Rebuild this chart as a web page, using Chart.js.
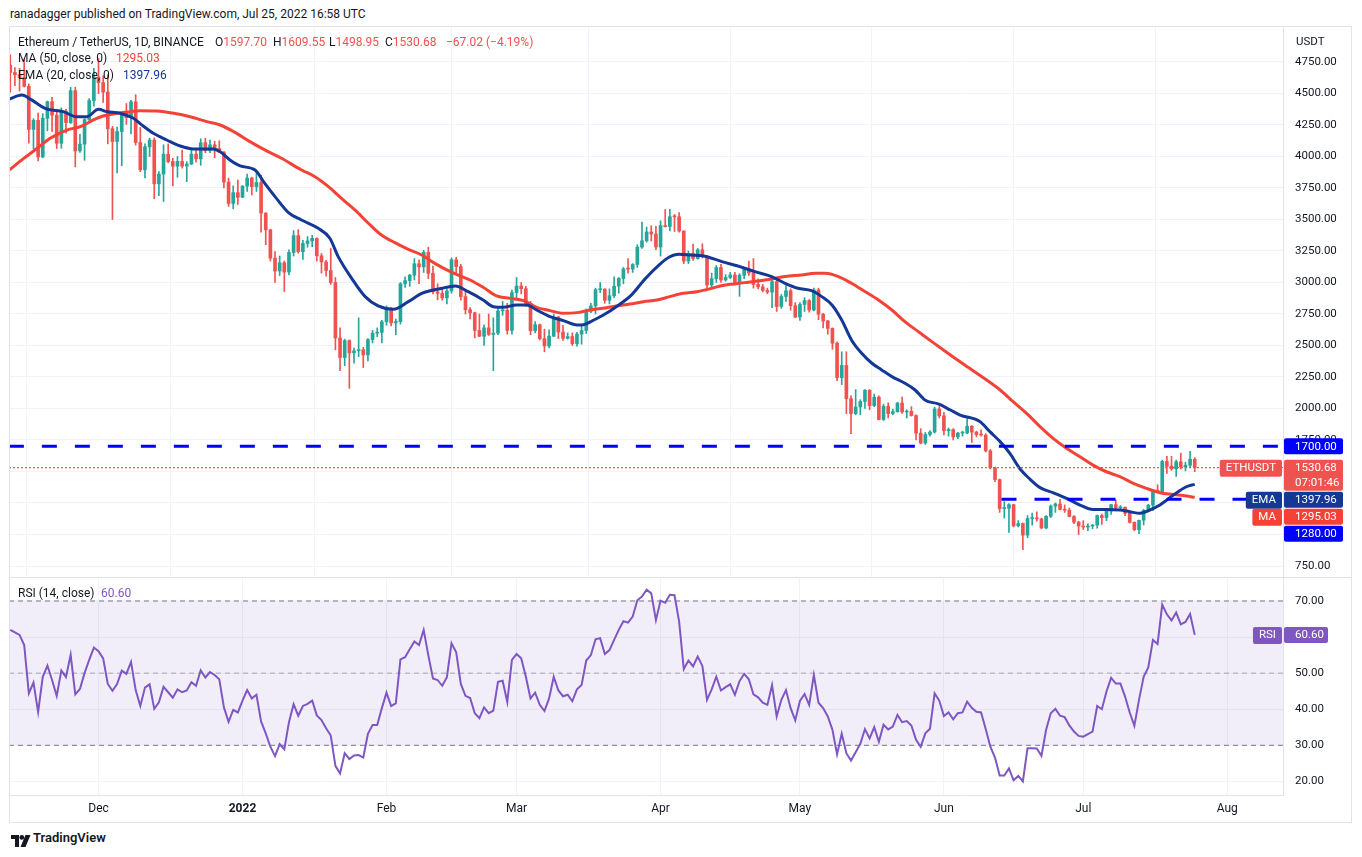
<!DOCTYPE html>
<html><head><meta charset="utf-8">
<script src="https://cdn.jsdelivr.net/npm/chart.js@4.4.1/dist/chart.umd.min.js"></script>
<style>
html,body{margin:0;padding:0;background:#fff;width:1362px;height:857px;overflow:hidden;font-family:Roboto,"Open Sans",sans-serif;color:#131722;}
#wrap{position:relative;width:1362px;height:857px;}
canvas{position:absolute;}
.t{position:absolute;white-space:nowrap;font-size:12px;line-height:16px;color:#131722;}
.r{color:#ef5350;}
.ln{position:absolute;background:#e0e3eb;pointer-events:none;}
</style></head><body>
<div id="wrap">
<canvas id="price" width="1342" height="551" style="left:9px;top:26px;"></canvas>
<canvas id="rsi" width="1342" height="245" style="left:9px;top:577px;"></canvas>
<div class="ln" style="left:9px;top:26px;width:1342px;height:1px;"></div>
<div class="ln" style="left:9px;top:822px;width:1342px;height:1px;"></div>
<div class="ln" style="left:9px;top:26px;width:1px;height:797px;"></div>
<div class="ln" style="left:1351px;top:26px;width:1px;height:797px;"></div>
<div class="ln" style="left:9px;top:577px;width:1342px;height:1px;"></div>

<div class="t" style="left:10px;top:6px;">ranadagger published on TradingView.com, Jul 25, 2022 16:58 UTC</div>
<div class="t" style="left:18px;top:34px;">Ethereum / TetherUS, 1D, BINANCE</div>
<div class="t" style="left:215px;top:34px;">O<span class="r" id="lgO"></span></div>
<div class="t" style="left:273px;top:34px;">H<span class="r" id="lgH"></span></div>
<div class="t" style="left:329px;top:34px;">L<span class="r" id="lgL"></span></div>
<div class="t" style="left:385px;top:34px;">C<span class="r" id="lgC"></span></div>
<div class="t r" style="left:446px;top:34px;" id="lgChg"></div>
<div class="t" style="left:18px;top:50px;">MA (50, close, 0)</div>
<div class="t" style="left:116px;top:50px;color:#f44336;" id="lgMA"></div>
<div class="t" style="left:18px;top:67px;">EMA (20, close, 0)</div>
<div class="t" style="left:123px;top:67px;color:#143896;" id="lgEMA"></div>
<div class="t" style="left:1296px;top:33px;font-size:11.5px;">USDT</div>
<div class="t" style="left:18px;top:585px;">RSI (14, close)</div>
<div class="t" style="left:101px;top:585px;color:#7e57c2;" id="lgRSI"></div>
<div style="position:absolute;left:11px;top:832px;">
<svg width="20" height="12" viewBox="0 0 20 12"><path d="M0 0h8v12H4V4H0z" fill="#131722"/><circle cx="10.8" cy="2.4" r="2.4" fill="#131722"/><path d="M14.5 0h5l-5 12h-5z" fill="#131722"/></svg>
</div>
<div class="t" style="left:33px;top:830px;font-size:13px;font-weight:600;">TradingView</div>
</div>
<script>
// ---- DATA (daily candles, Nov 12 2021 .. Jul 25 2022) ----
const firstDay = -19; // days relative to Dec 1, 2021
const opens = [
4725,4667,4649,4626,4557,4215,4287,3996,4303,4435,4328,4105,4361,4269,4523,4044,4098,4293,4444,
4631,4586,4511,4220,4119,4198,4346,4308,4434,4111,3894,4077,4131,3783,3861,4018,3960,3923,3961,3924,3940,4019,3981,4109,4046,4093,4063,4036,3797,3628,3713,
3676,3765,3829,3761,3794,3550,3418,3193,3091,3157,3083,3238,3372,3245,3310,3330,3350,3212,3163,3095,3000,2560,2405,2539,2441,2458,2467,2425,2547,2598,2604,
2688,2792,2680,2690,2990,3015,3058,3149,3124,3240,3073,2926,2914,2878,2933,3180,3126,2888,2784,2760,2620,2573,2640,2588,2598,2775,2780,2620,
2920,2972,2951,2835,2617,2665,2555,2496,2574,2727,2607,2557,2571,2515,2590,2619,2772,2814,2943,2948,2859,2895,2971,3032,3108,3106,3143,3281,3331,3401,3385,
3282,3452,3444,3522,3521,3409,3170,3232,3190,3260,3210,2980,3030,3119,3020,3040,3060,2990,3058,3103,3076,2985,2965,2937,2924,3007,2810,2889,2935,2816,
2726,2826,2857,2782,2941,2748,2695,2636,2518,2245,2342,2078,1960,2012,2056,2145,2023,2090,1913,2017,1960,1975,2043,1972,1978,1944,1804,1725,1794,1813,1996,
1942,1823,1833,1775,1805,1806,1859,1813,1793,1789,1664,1529,1436,1206,1209,1237,1069,1087,995,1127,1127,1124,1052,1144,1225,1242,1199,1193,1143,1098,
1067,1059,1067,1074,1150,1134,1186,1237,1212,1216,1168,1097,1038,1113,1192,1233,1352,1339,1580,1542,1521,1577,1536,1550,1597.70
];
const highs = [
4808,4705,4700,4772,4577,4300,4345,4340,4440,4469,4375,4386,4375,4550,4550,4176,4300,4460,4700,
4778,4640,4650,4240,4233,4350,4420,4445,4490,4230,4100,4145,4148,3880,4093,4100,3985,4000,4050,3960,4050,4060,4140,4145,4130,4120,4125,4040,3828,3767,3812,
3769,3860,3836,3877,3850,3555,3423,3245,3210,3170,3260,3412,3420,3335,3365,3375,3355,3230,3175,3270,3040,2640,2550,2545,2480,2720,2485,2555,2620,2640,2700,
2815,2800,2710,3000,3045,3065,3190,3180,3255,3280,3130,2990,2962,2950,3195,3200,3145,2945,2800,2765,2750,2665,2750,2720,2810,2850,2835,2940,
3040,3000,2970,2850,2690,2670,2630,2625,2750,2730,2660,2600,2600,2605,2655,2790,2835,2955,3000,2950,2950,3045,3040,3120,3190,3150,3300,3480,3440,3450,3445,
3490,3580,3580,3540,3555,3410,3250,3305,3270,3308,3215,3075,3135,3145,3062,3080,3080,3070,3120,3170,3190,3030,2985,2955,3025,3035,2905,2975,2950,2840,
2840,2880,2865,2955,2955,2755,2700,2640,2530,2450,2450,2100,2150,2070,2150,2150,2115,2100,2035,2045,1995,2050,2090,1990,2015,1950,1840,1810,1825,2010,2015,
1970,1845,1840,1810,1820,1920,1865,1820,1830,1800,1675,1535,1440,1260,1245,1240,1110,1090,1150,1170,1180,1130,1150,1235,1250,1280,1235,1210,1150,1105,
1110,1085,1080,1155,1163,1192,1240,1275,1230,1220,1170,1100,1115,1200,1240,1355,1395,1590,1620,1620,1590,1645,1575,1660,1609.55
];
const lows = [
4510,4563,4520,4551,4106,4060,3964,3990,4204,4200,4063,4065,4185,4262,3918,4033,3970,4285,4400,
4500,4430,4100,3500,3870,3927,4255,4180,4090,3880,3830,4000,3665,3690,3643,3950,3766,3835,3907,3800,3935,3955,3930,4030,4030,3990,4030,3750,3604,3585,3620,
3675,3722,3695,3723,3400,3300,3170,3000,3055,2928,3060,3210,3232,3183,3280,3283,3170,3075,3050,2985,2465,2300,2340,2160,2360,2412,2325,2378,2520,2570,2520,
2660,2655,2585,2670,2960,2970,3020,2990,3080,3030,2910,2862,2860,2830,2915,3072,2860,2750,2710,2560,2570,2500,2580,2300,2585,2740,2590,2590,
2860,2910,2810,2585,2600,2545,2450,2480,2570,2555,2540,2550,2500,2495,2510,2595,2760,2750,2920,2835,2830,2880,2915,2990,3075,3080,3120,3270,3320,3330,3260,
3210,3440,3410,3405,3400,3150,3150,3175,3185,3195,2950,2950,3000,3000,3010,3030,2980,2890,3030,3055,2955,2950,2925,2910,2800,2770,2795,2850,2780,2720,
2700,2770,2765,2775,2705,2640,2590,2470,2220,2190,1960,1800,1950,1950,2000,1990,2015,1910,1905,1925,1950,1970,1960,1925,1940,1750,1720,1715,1780,1805,1925,
1790,1780,1750,1760,1780,1800,1730,1775,1780,1655,1520,1420,1175,1130,1016,1060,1060,880,975,1075,1105,1045,1045,1135,1175,1195,1175,1140,1085,1000,
1040,1030,1045,1050,1080,1110,1160,1195,1200,1150,1090,1030,1006,1075,1185,1190,1335,1335,1485,1510,1460,1520,1505,1535,1498.95
];
const closes = [
4667,4649,4626,4557,4215,4287,3996,4303,4435,4328,4105,4361,4269,4523,4044,4098,4293,4444,4631,
4586,4511,4220,4119,4198,4346,4308,4434,4111,3894,4077,4131,3783,3861,4018,3960,3923,3961,3924,3940,4019,3981,4109,4046,4093,4063,4036,3797,3628,3713,3676,
3765,3829,3761,3794,3550,3418,3193,3091,3157,3083,3238,3372,3245,3310,3330,3350,3212,3163,3095,3000,2560,2405,2539,2441,2458,2467,2425,2547,2598,2604,2688,
2792,2680,2690,2990,3015,3058,3149,3124,3240,3073,2926,2914,2878,2933,3180,3126,2888,2784,2760,2620,2573,2640,2588,2598,2775,2780,2620,2920,
2972,2951,2835,2617,2665,2555,2496,2574,2727,2607,2557,2571,2515,2590,2619,2772,2814,2943,2948,2859,2895,2971,3032,3108,3106,3143,3281,3331,3401,3385,3282,
3452,3444,3522,3521,3409,3170,3232,3190,3260,3210,2980,3030,3119,3020,3040,3060,2990,3058,3103,3076,2985,2965,2937,2924,3007,2810,2889,2935,2816,2726,
2826,2857,2782,2941,2748,2695,2636,2518,2245,2342,2078,1960,2012,2056,2145,2023,2090,1913,2017,1960,1975,2043,1972,1978,1944,1804,1725,1794,1813,1996,1942,
1823,1833,1775,1805,1806,1859,1813,1793,1789,1664,1529,1436,1206,1209,1237,1069,1087,995,1127,1127,1124,1052,1144,1225,1242,1199,1193,1143,1098,1067,
1059,1067,1074,1150,1134,1186,1237,1212,1216,1168,1097,1038,1113,1192,1233,1352,1339,1580,1542,1521,1577,1536,1550,1597.70,1530.68
];
// MA(50): day (rel. Dec 1) and value
const maDays = [-19.3,-16.1,-13.2,-10.4,-6.8,-3.9,-1.1,1,3.9,6.8,8.9,12.5,16.2,19.7,23.3,26.2,29.1,32.6,35.8,39.4,43.7,46.6,49.5,52.3,55.2,58.1,60.9,63.8,66.7,69.6,72.4,75.3,78.2,80,82.8,85.7,88.6,91.5,94.3,97.2,100.1,103,105.8,108.7,111.5,114.4,117.3,120.2,123,125.9,128.8,130.6,134.9,139.2,143.5,147.8,151.4,154.3,156.4,159.3,162.1,165,167.9,170.8,173.6,176.5,179.4,183.4,187.3,191.2,194.1,196.9,199.8,202.7,205.5,208.4,211.3,214.1,217,219.9,222.8,225.6,228.5,231.4,234.2,236];
const maVals = [3890,3985,4065,4144,4210,4237,4290,4321,4343,4356,4364,4361,4343,4316,4277,4250,4197,4118,4052,3986,3893,3840,3761,3668,3576,3470,3377,3316,3263,3218,3152,3094,3047,3020,2962,2893,2874,2856,2803,2777,2755,2761,2782,2795,2814,2829,2848,2861,2888,2914,2927,2941,2980,2999,3020,3047,3060,3073,3073,3047,2994,2928,2861,2782,2689,2610,2531,2425,2325,2226,2147,2054,1961,1856,1763,1684,1617,1551,1498,1459,1406,1366,1332,1318,1305,1295.03];
// EMA(20)
const emaDays = [-19.3,-16.5,-14.4,-11.5,-7.6,-4.7,-2.5,0,1.8,4.6,7.5,8.9,11.8,14.7,17.6,20.4,24.7,26.2,28.3,30.5,33.7,35.8,38,40.9,43.7,47.3,49.8,51.6,54.5,57.4,60.2,63.5,66.7,69.6,73.9,76.8,79.6,82.8,85,87.1,90,92.2,94.3,97.2,100.1,103,104.4,106.5,108.7,111.7,114.7,117.7,120.7,122.8,124.9,127.4,130.3,134.2,138.5,141.3,144.9,147.8,150.6,153.5,155.7,157.9,160,162.1,164.3,166.5,168.6,170.8,173.6,175.8,177.9,180.8,183.4,185.5,189.8,191.9,194.1,196.2,198.4,200.5,202.7,205.5,208.4,211.3,214.1,217,219.9,222,224.2,226.3,228.5,231.4,234.2,236];
const emaVals = [4454,4488,4449,4382,4356,4316,4316,4374,4356,4343,4303,4263,4184,4131,4083,4060,4060,4038,3972,3925,3893,3787,3682,3555,3496,3430,3351,3205,3033,2888,2814,2787,2848,2914,2954,2972,2927,2861,2808,2803,2822,2822,2782,2729,2697,2663,2665,2700,2742,2814,2900,3030,3140,3200,3224,3218,3210,3166,3121,3086,3047,2994,2954,2935,2888,2822,2703,2544,2438,2359,2306,2253,2200,2147,2068,2036,1988,1948,1895,1816,1737,1644,1520,1440,1372,1332,1287,1234,1199,1199,1194,1181,1168,1194,1234,1313,1379,1397.96];
// RSI(14) daily values
const rsiVals = [
62.0,61.3,60.6,57.8,44.4,47.4,39.2,49.0,52.1,48.1,43.7,50.7,48.9,55.1,44.1,45.6,50.0,53.7,57.1,
56.1,54.1,47.0,45.1,47.0,50.7,49.8,53.1,45.3,40.9,46.0,46.9,40.1,41.9,46.2,44.7,43.2,45.5,44.7,45.2,47.5,46.5,50.8,48.8,50.3,49.5,48.3,40.5,36.5,39.8,39.1,
42.4,45.3,43.0,44.0,36.6,33.3,29.6,27.0,30.3,28.9,36.4,41.4,38.2,40.9,41.5,42.4,38.3,37.0,34.7,32.7,24.3,22.2,27.8,26.2,27.2,27.3,26.6,33.2,35.6,35.6,40.3,
44.6,40.9,41.6,53.8,54.4,56.6,58.8,57.8,62.0,55.0,48.5,48.1,46.5,48.9,58.3,55.8,47.0,43.7,43.1,38.9,37.5,40.5,38.9,39.6,47.6,47.9,42.0,53.7,
55.3,54.1,49.0,43.0,44.6,41.2,39.5,43.0,49.0,45.2,43.6,44.0,42.2,45.5,46.7,53.5,55.0,59.4,59.7,55.3,56.4,59.2,62.0,64.4,64.0,65.7,70.2,71.2,73.1,72.1,64.7,
70.1,69.5,71.7,71.6,64.3,51.1,53.5,51.9,54.6,52.0,42.6,45.5,49.0,45.2,46.1,46.9,44.0,47.8,49.8,48.3,44.1,43.3,41.8,41.2,46.7,38.0,42.6,45.3,40.3,36.9,
42.3,44.2,41.2,49.5,41.8,40.3,38.0,34.3,27.5,33.2,27.8,25.8,28.1,30.4,34.5,31.9,35.0,31.0,35.7,34.4,35.2,38.4,36.4,36.7,35.5,31.5,29.6,33.3,34.6,44.4,42.4,
38.1,39.1,37.2,38.9,39.1,42.1,40.4,39.3,39.1,34.5,29.6,26.6,21.6,21.6,23.6,20.3,21.5,20.0,29.2,29.2,29.1,27.1,34.3,38.9,40.1,38.2,37.8,35.5,33.8,32.6,
32.4,33.1,33.8,40.9,40.0,44.9,48.7,47.1,47.1,43.5,39.1,35.4,42.6,49.0,51.6,59.2,58.1,69.0,66.3,64.6,66.8,63.5,64.2,66.4,60.6
];
// horizontal levels drawn on the chart
const levelPrices = [1700, 1280];
const levelStartDays = [-19.3, 194.4];
// axis ticks
const priceTicks = [750,1000,1250,1500,1750,2000,2250,2500,2750,3000,3250,3500,3750,4000,4250,4500,4750];
const rsiTicks = [20,30,40,50,60,70];
const rsiBands = [70, 50, 30];
const monthDays = [0,31,62,90,121,151,182,212,243];
const monthLabels = ['Dec','2022','Feb','Mar','Apr','May','Jun','Jul','Aug'];
const countdown = '07:01:46';

// ---- CHART ----
const X_MIN = -19.27, X_MAX = 255.0;
const P_MIN = 662.7, P_MAX = 5035.7;
const R_MIN = 16.22, R_MAX = 76.65;
const GREEN = '#26a69a', RED = '#ef5350', EMA_C = '#143896', MA_C = '#f44336', LVL_C = '#0000ff', RSI_C = '#7e57c2';
Chart.defaults.font.family = 'Roboto, "Open Sans", sans-serif';
Chart.defaults.color = '#131722';

const N = closes.length;
const last = N - 1;
const days = closes.map((_, i) => firstDay + i);
const cColors = closes.map((c, i) => c >= opens[i] ? GREEN : RED);
const xy = (xs, ys) => xs.map((x, i) => ({x, y: ys[i]}));
const fmt = v => v.toFixed(2);

// legend texts
document.getElementById('lgO').textContent = fmt(opens[last]);
document.getElementById('lgH').textContent = fmt(highs[last]);
document.getElementById('lgL').textContent = fmt(lows[last]);
document.getElementById('lgC').textContent = fmt(closes[last]);
const chg = closes[last] - opens[last];
document.getElementById('lgChg').textContent = '\u2212' + fmt(Math.abs(chg)) + ' (\u2212' + fmt(Math.abs(chg / opens[last] * 100)) + '%)';
document.getElementById('lgMA').textContent = fmt(maVals[maVals.length - 1]);
document.getElementById('lgEMA').textContent = fmt(emaVals[emaVals.length - 1]);
document.getElementById('lgRSI').textContent = fmt(rsiVals[last]);

function tagDraw(ctx, items, xAxis) {
  ctx.save();
  ctx.font = '11.5px Roboto, "Open Sans", sans-serif';
  ctx.textBaseline = 'middle';
  let prevBottom = -1e9;
  items.sort((a, b) => a.y - b.y);
  for (const it of items) {
    const h = 16 + (it.lines.length - 1) * 15;
    let top = Math.max(it.y - 8, prevBottom + 1);
    prevBottom = top + h;
    ctx.fillStyle = it.bg;
    ctx.beginPath(); ctx.roundRect(xAxis + 1, top, it.w || 59, h, 2); ctx.fill();
    ctx.fillStyle = '#fff'; ctx.textAlign = 'left';
    it.lines.forEach((s, k) => ctx.fillText(s, xAxis + 12, top + 8.5 + k * 15));
    if (it.tag) {
      const tw = ctx.measureText(it.tag).width + 12;
      ctx.fillStyle = it.bg;
      ctx.beginPath(); ctx.roundRect(xAxis - tw - 1, top, tw, 17, 2); ctx.fill();
      ctx.fillStyle = '#fff'; ctx.textAlign = 'center';
      ctx.fillText(it.tag, xAxis - 1 - tw / 2, top + 8.5);
    }
  }
  ctx.restore();
}

const priceTags = {
  id: 'priceTags',
  afterDraw(chart) {
    const y = chart.scales.y, xA = chart.chartArea.right;
    tagDraw(chart.ctx, [
      {y: y.getPixelForValue(levelPrices[0]), lines: [fmt(levelPrices[0])], bg: LVL_C},
      {y: y.getPixelForValue(closes[last]), lines: [fmt(closes[last]), countdown], bg: RED, tag: 'ETHUSDT'},
      {y: y.getPixelForValue(emaVals[emaVals.length - 1]), lines: [fmt(emaVals[emaVals.length - 1])], bg: EMA_C, tag: 'EMA'},
      {y: y.getPixelForValue(maVals[maVals.length - 1]), lines: [fmt(maVals[maVals.length - 1])], bg: MA_C, tag: 'MA'},
      {y: y.getPixelForValue(levelPrices[1]), lines: [fmt(levelPrices[1])], bg: LVL_C}
    ], xA);
  }
};
const rsiTags = {
  id: 'rsiTags',
  afterDraw(chart) {
    const y = chart.scales.y, xA = chart.chartArea.right;
    tagDraw(chart.ctx, [
      {y: y.getPixelForValue(rsiVals[last]), lines: [fmt(rsiVals[last])], bg: RSI_C, tag: 'RSI', w: 44}
    ], xA);
  }
};

const gridC = '#f0f3fa';
const noPad = s => { s.paddingTop = 0; s.paddingBottom = 0; s.paddingLeft = 0; s.paddingRight = 0; };
const xCommon = {
  type: 'linear', min: X_MIN, max: X_MAX, offset: false,
  grid: {color: gridC, drawTicks: false},
  afterBuildTicks: s => { s.ticks = monthDays.map(v => ({value: v})); }
};

new Chart(document.getElementById('price'), {
  type: 'bar',
  data: {datasets: [
    {type: 'bar', data: days.map((d, i) => ({x: d, y: [lows[i], highs[i]]})), backgroundColor: cColors, barThickness: 1, grouped: false, order: 10},
    {type: 'bar', data: days.map((d, i) => ({x: d, y: [opens[i], closes[i]]})), backgroundColor: cColors, barThickness: 3, minBarLength: 1, grouped: false, order: 9},
    {type: 'line', data: xy(maDays, maVals), borderColor: MA_C, borderWidth: 3, pointRadius: 0, cubicInterpolationMode: 'monotone', order: 6},
    {type: 'line', data: xy(emaDays, emaVals), borderColor: EMA_C, borderWidth: 3, pointRadius: 0, cubicInterpolationMode: 'monotone', order: 5},
    {type: 'line', data: [{x: X_MIN, y: closes[last]}, {x: X_MAX, y: closes[last]}], borderColor: RED, borderWidth: 1.2, borderDash: [2, 2], pointRadius: 0, order: 3},
    {type: 'line', data: [{x: levelStartDays[0], y: levelPrices[0]}, {x: X_MAX, y: levelPrices[0]}], borderColor: LVL_C, borderWidth: 3, borderDash: [15, 18], pointRadius: 0, order: 1},
    {type: 'line', data: [{x: levelStartDays[1], y: levelPrices[1]}, {x: X_MAX, y: levelPrices[1]}], borderColor: LVL_C, borderWidth: 3, borderDash: [15, 18], pointRadius: 0, order: 1}
  ]},
  options: {
    responsive: false, animation: false, events: [],
    layout: {padding: 0, autoPadding: false},
    plugins: {legend: {display: false}, tooltip: {enabled: false}},
    scales: {
      x: Object.assign({}, xCommon, {ticks: {display: false}, border: {display: false}, afterFit: s => { s.height = 0; noPad(s); }}),
      y: {
        position: 'right', min: P_MIN, max: P_MAX,
        grid: {color: gridC, drawTicks: false},
        border: {color: '#e0e3eb'},
        ticks: {padding: 12, font: {size: 11.5}, color: '#131722', callback: v => fmt(v)},
        afterBuildTicks: s => { s.ticks = priceTicks.map(v => ({value: v})); },
        afterFit: s => { s.width = 68; noPad(s); }
      }
    }
  },
  plugins: [priceTags]
});

new Chart(document.getElementById('rsi'), {
  type: 'line',
  data: {datasets: [
    {data: [{x: X_MIN, y: rsiBands[0]}, {x: X_MAX, y: rsiBands[0]}], borderColor: '#787b86', borderWidth: 1, borderDash: [5, 4], pointRadius: 0, fill: '+1', backgroundColor: 'rgba(126,87,194,0.1)', order: 3},
    {data: [{x: X_MIN, y: rsiBands[2]}, {x: X_MAX, y: rsiBands[2]}], borderColor: '#787b86', borderWidth: 1, borderDash: [5, 4], pointRadius: 0, fill: false, order: 3},
    {data: [{x: X_MIN, y: rsiBands[1]}, {x: X_MAX, y: rsiBands[1]}], borderColor: 'rgba(120,123,134,0.6)', borderWidth: 1, borderDash: [5, 4], pointRadius: 0, fill: false, order: 2},
    {data: xy(days, rsiVals), borderColor: RSI_C, borderWidth: 2, pointRadius: 0, fill: false, tension: 0, order: 1}
  ]},
  options: {
    responsive: false, animation: false, events: [],
    layout: {padding: 0, autoPadding: false},
    plugins: {legend: {display: false}, tooltip: {enabled: false}},
    scales: {
      x: Object.assign({}, xCommon, {
        border: {display: true, color: '#e0e3eb'},
        ticks: {padding: 7, maxRotation: 0, autoSkip: false, color: '#131722',
          font: ctx => ({size: 12, weight: (ctx.tick && ctx.tick.label === '2022') ? 'bold' : 'normal'}),
          callback: (v, i) => monthLabels[i]},
        afterFit: s => { s.height = 27; noPad(s); }
      }),
      y: {
        position: 'right', min: R_MIN, max: R_MAX,
        grid: {color: gridC, drawTicks: false},
        border: {color: '#e0e3eb'},
        ticks: {padding: 12, font: {size: 11.5}, color: '#131722', callback: v => fmt(v)},
        afterBuildTicks: s => { s.ticks = rsiTicks.map(v => ({value: v})); },
        afterFit: s => { s.width = 68; noPad(s); }
      }
    }
  },
  plugins: [rsiTags]
});
</script>
</body></html>
